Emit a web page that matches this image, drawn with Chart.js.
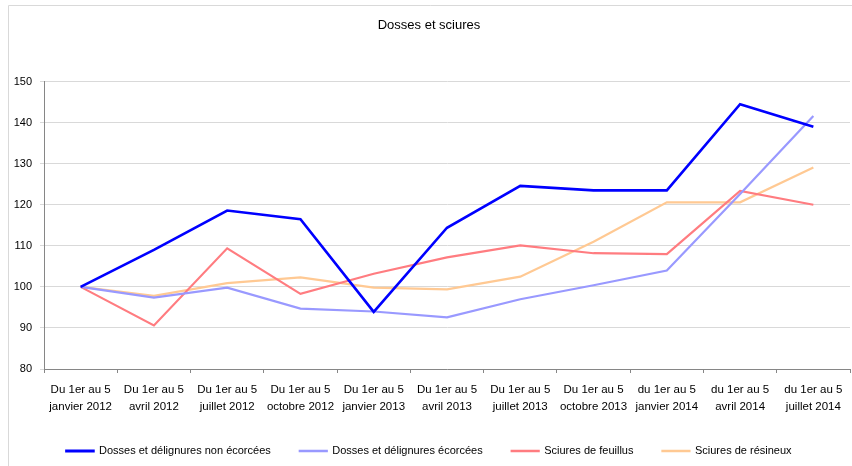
<!DOCTYPE html>
<html>
<head>
<meta charset="utf-8">
<script src="https://cdn.jsdelivr.net/npm/chart.js@4.4.1/dist/chart.umd.min.js"></script>
<style>
html,body{margin:0;padding:0;background:#fff;}
#wrap{width:852px;height:466px;position:relative;}
</style>
</head>
<body>
<div id="wrap"><canvas id="c" width="852" height="466"></canvas></div>
<script>
const categories = [
  ["Du 1er au 5","janvier 2012"],
  ["Du 1er au 5","avril 2012"],
  ["Du 1er au 5","juillet 2012"],
  ["Du 1er au 5","octobre 2012"],
  ["Du 1er au 5","janvier 2013"],
  ["Du 1er au 5","avril 2013"],
  ["Du 1er au 5","juillet 2013"],
  ["Du 1er au 5","octobre 2013"],
  ["du 1er au 5","janvier 2014"],
  ["du 1er au 5","avril 2014"],
  ["du 1er au 5","juillet 2014"]
];
const dossesNonEcorcees = [100, 109.0, 118.6, 116.5, 93.9, 114.4, 124.6, 123.5, 123.5, 144.5, 139.0];
const dossesEcorcees    = [100, 97.4, 99.8, 94.7, 94.0, 92.6, 97.0, 100.4, 104.0, 122.6, 141.6];
const sciuresFeuillus   = [100, 90.6, 109.4, 98.3, 103.2, 107.2, 110.1, 108.2, 108.0, 123.4, 120.0];
const sciuresResineux   = [100, 97.8, 100.9, 102.3, 99.8, 99.4, 102.5, 111.0, 120.6, 120.6, 129.1];
const yTicks = [80, 90, 100, 110, 120, 130, 140, 150];
const seriesNames = ["Dosses et délignures non écorcées","Dosses et délignures écorcées","Sciures de feuillus","Sciures de résineux"];

const sans = "'Liberation Sans',Arial,sans-serif";

const framePlugin = {
  id: 'frame',
  beforeDraw(chart) {
    const ctx = chart.ctx;
    ctx.save();
    ctx.strokeStyle = '#d9d9d9';
    ctx.lineWidth = 1;
    ctx.beginPath();
    ctx.moveTo(8.5, 466);
    ctx.lineTo(8.5, 5.5);
    ctx.lineTo(852, 5.5);
    ctx.stroke();
    ctx.restore();
  }
};
// legend uses wide horizontal spacing; keep its reserved height small and place the row at the bottom
const legendPlace = {
  id: 'legendPlace',
  afterInit(chart) {
    const lg = chart.legend;
    if (!lg || lg._patched) return;
    const origFit = lg.fit;
    lg.fit = function () {
      origFit.call(this);
      this.height = 31;
    };
    lg._patched = true;
  },
  afterLayout(chart) {
    const lg = chart.legend;
    if (!lg) return;
    lg.top = 416.5;
    lg.bottom = 466;
  }
};

new Chart(document.getElementById('c'), {
  type: 'line',
  data: {
    labels: categories,
    datasets: [
      {label: seriesNames[0], data: dossesNonEcorcees, borderColor: '#0000FF', backgroundColor: '#0000FF', borderWidth: 2.6},
      {label: seriesNames[1], data: dossesEcorcees, borderColor: '#9999FF', backgroundColor: '#9999FF', borderWidth: 2.2},
      {label: seriesNames[2], data: sciuresFeuillus, borderColor: '#FF7C80', backgroundColor: '#FF7C80', borderWidth: 2.2},
      {label: seriesNames[3], data: sciuresResineux, borderColor: '#FFC993', backgroundColor: '#FFC993', borderWidth: 2.2}
    ]
  },
  options: {
    responsive: false,
    animation: false,
    devicePixelRatio: 1,
    layout: {padding: {left: 8, right: 2, top: 5, bottom: 0}},
    elements: {point: {radius: 0}, line: {tension: 0}},
    plugins: {
      title: {
        display: true,
        text: 'Dosses et sciures',
        color: '#000',
        font: {family: sans, size: 13, weight: 'normal', lineHeight: 1.2},
        padding: {top: 13, bottom: 48}
      },
      legend: {
        position: 'bottom',
        align: 'center',
        labels: {
          boxWidth: 27,
          boxHeight: 0.4,
          padding: 29,
          color: '#000',
          font: {family: sans, size: 11},
          generateLabels(chart) {
            const items = Chart.defaults.plugins.legend.labels.generateLabels(chart);
            items.forEach((it, i) => { it.lineWidth = chart.data.datasets[i].borderWidth; });
            return items;
          }
        }
      },
      tooltip: {enabled: false}
    },
    scales: {
      x: {
        offset: true,
        grid: {offset: true, drawOnChartArea: false, drawTicks: true, tickLength: 4, color: '#868686'},
        border: {color: '#868686'},
        ticks: {
          color: '#000',
          padding: 8,
          maxRotation: 0,
          autoSkip: false,
          font: {family: sans, size: 11.5, lineHeight: 1.48}
        },
        afterFit(s) { s.height = 66; }
      },
      y: {
        min: 80, max: 150,
        afterBuildTicks(s) { s.ticks = yTicks.map(v => ({value: v})); },
        grid: {color: '#d9d9d9', tickLength: 4, tickColor: '#d9d9d9'},
        border: {color: '#868686'},
        ticks: {color: '#000', padding: 8, font: {family: sans, size: 11}},
        afterFit(s) { s.width = 36; }
      }
    }
  },
  plugins: [framePlugin, legendPlace]
});
</script>
</body>
</html>
